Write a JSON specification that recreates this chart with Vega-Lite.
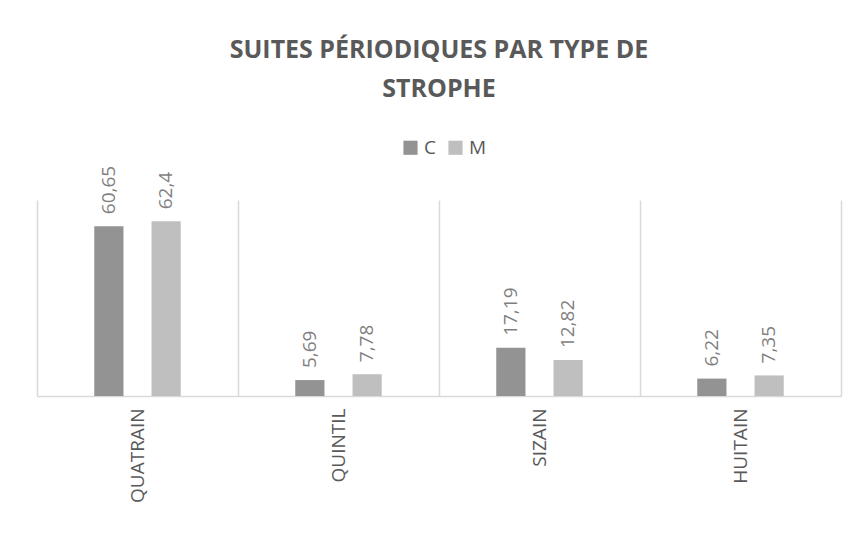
{
  "$schema": "https://vega.github.io/schema/vega-lite/v6.json",
  "width": 804,
  "height": 196,
  "autosize": {"type": "none"},
  "padding": {"left": 37, "top": 200, "right": 20, "bottom": 147},
  "background": "white",
  "config": {
    "view": {"stroke": null},
    "font": "Open Sans",
    "locale": {"number": {"decimal": ",", "thousands": " ", "grouping": [3], "currency": ["", " €"]}}
  },
  "title": {
    "text": ["SUITES PÉRIODIQUES PAR TYPE DE", "STROPHE"],
    "font": "Open Sans",
    "fontSize": 25,
    "fontWeight": "bold",
    "color": "#595959",
    "anchor": "middle",
    "lineHeight": 39,
    "offset": 36
  },
  "data": {
    "values": [
      {"strophe": "QUATRAIN", "serie": "C", "valeur": 60.65},
      {"strophe": "QUATRAIN", "serie": "M", "valeur": 62.4},
      {"strophe": "QUINTIL", "serie": "C", "valeur": 5.69},
      {"strophe": "QUINTIL", "serie": "M", "valeur": 7.78},
      {"strophe": "SIZAIN", "serie": "C", "valeur": 17.19},
      {"strophe": "SIZAIN", "serie": "M", "valeur": 12.82},
      {"strophe": "HUITAIN", "serie": "C", "valeur": 6.22},
      {"strophe": "HUITAIN", "serie": "M", "valeur": 7.35}
    ]
  },
  "encoding": {
    "x": {
      "field": "strophe",
      "type": "nominal",
      "sort": ["QUATRAIN", "QUINTIL", "SIZAIN", "HUITAIN"],
      "scale": {"paddingInner": 0, "paddingOuter": 0},
      "axis": {
        "title": null,
        "labelAngle": 270,
        "labelFontSize": 19,
        "labelColor": "#595959",
        "labelPadding": 12,
        "ticks": false,
        "domainColor": "#d9d9d9",
        "domainWidth": 1.5,
        "grid": true,
        "gridColor": "#d9d9d9",
        "gridWidth": 1.5,
        "bandPosition": 0
      }
    },
    "xOffset": {
      "field": "serie",
      "type": "nominal",
      "scale": {"paddingInner": 0.49, "paddingOuter": 1.17}
    },
    "y": {
      "field": "valeur",
      "type": "quantitative",
      "scale": {"domain": [0, 70]},
      "axis": {
        "orient": "right",
        "title": null,
        "labels": false,
        "ticks": false,
        "grid": false,
        "domain": true,
        "domainColor": "#d9d9d9",
        "domainWidth": 1.5
      }
    }
  },
  "layer": [
    {
      "mark": {"type": "bar"},
      "encoding": {
        "color": {
          "field": "serie",
          "type": "nominal",
          "scale": {"domain": ["C", "M"], "range": ["#939393", "#bfbfbf"]},
          "legend": {
            "title": null,
            "orient": "none",
            "direction": "horizontal",
            "legendX": 364,
            "legendY": -62,
            "symbolType": "square",
            "symbolSize": 200,
            "symbolOpacity": 1,
            "symbolStrokeWidth": 0,
            "labelFontSize": 19,
            "labelColor": "#595959",
            "labelOffset": 4,
            "columnPadding": 10
          }
        }
      }
    },
    {
      "mark": {
        "type": "text",
        "angle": 270,
        "align": "left",
        "baseline": "middle",
        "dx": 12,
        "fontSize": 19,
        "color": "#7f7f7f"
      },
      "encoding": {
        "text": {"field": "valeur", "type": "quantitative", "format": ".4~g"}
      }
    }
  ]
}
